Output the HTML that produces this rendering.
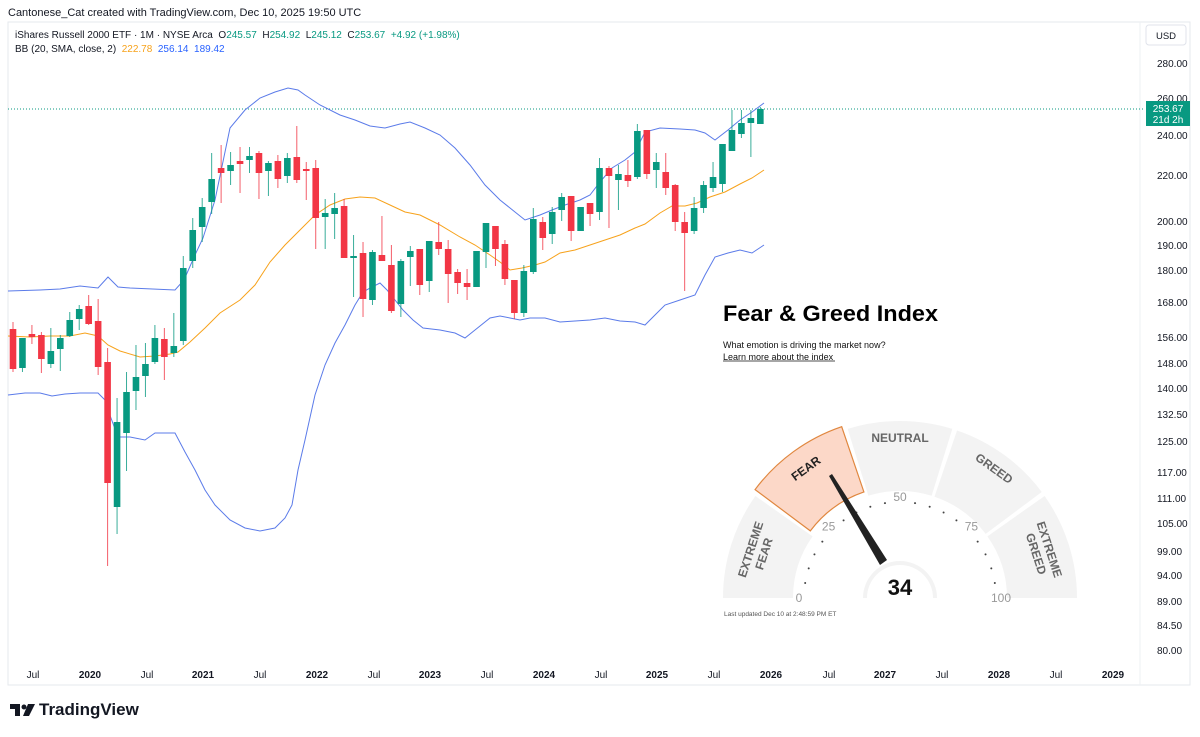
<!DOCTYPE html>
<html><head><meta charset="utf-8"><style>
html,body{margin:0;padding:0;background:#fff;}
body{width:1200px;height:732px;overflow:hidden;position:relative;font-family:"Liberation Sans",sans-serif;}
text{white-space:pre;}
</style></head><body>
<svg id="s" width="1200" height="732" viewBox="0 0 1200 732" xmlns="http://www.w3.org/2000/svg" font-family="Liberation Sans, sans-serif">
<rect x="8" y="22" width="1182" height="663" fill="none" stroke="#e6e8ee"/>
<line x1="1140" y1="22" x2="1140" y2="685" stroke="#eef0f3"/>
<text x="8" y="16" font-size="11" fill="#131722">Cantonese_Cat created with TradingView.com, Dec 10, 2025 19:50 UTC</text>
<text x="15" y="38" font-size="10" fill="#131722" xml:space="preserve">iShares Russell 2000 ETF · 1M · NYSE Arca  O<tspan fill="#089981">245.57</tspan>  H<tspan fill="#089981">254.92</tspan>  L<tspan fill="#089981">245.12</tspan>  C<tspan fill="#089981">253.67</tspan>  <tspan fill="#089981">+4.92 (+1.98%)</tspan></text>
<text x="15" y="52" font-size="10" fill="#131722" xml:space="preserve">BB (20, SMA, close, 2)  <tspan fill="#f7a21b">222.78</tspan>  <tspan fill="#2962ff">256.14</tspan>  <tspan fill="#2962ff">189.42</tspan></text>
<rect x="1146" y="25" width="40" height="20" rx="3" fill="#fff" stroke="#e0e3eb"/>
<text x="1166" y="39" font-size="9.5" fill="#131722" text-anchor="middle">USD</text>
<g id="ax" font-size="10" fill="#131722"></g>
<line x1="8" y1="109" x2="1145" y2="109" stroke="#089981" stroke-dasharray="1,2" stroke-width="1"/>
<g id="bb" fill="none" stroke-width="1"></g>
<g id="cd"></g>
<rect x="1146" y="101" width="44" height="25" fill="#089981"/>
<text x="1168" y="112" font-size="10" fill="#fff" text-anchor="middle">253.67</text>
<text x="1168" y="123" font-size="10" fill="#fff" text-anchor="middle">21d 2h</text>
<text x="723" y="321" font-size="22" font-weight="bold" fill="#000" textLength="215" lengthAdjust="spacingAndGlyphs">Fear &amp; Greed Index</text>
<text x="723" y="348" font-size="9" fill="#111">What emotion is driving the market now?</text>
<text x="723" y="360" font-size="9" fill="#111">Learn more about the index</text>
<line x1="723" y1="361" x2="835" y2="361" stroke="#111" stroke-width="0.7"/>
<g id="gg"></g>
<text x="724" y="616" font-size="6.5" fill="#555">Last updated Dec 10 at 2:48:59 PM ET</text>
<g transform="translate(10,700)">
<path d="M0 4h10v12h-5v-7h-5z" fill="#131722"/><circle cx="14" cy="7" r="2.5" fill="#131722"/><path d="M18 4h7l-6 12h-6z" fill="#131722"/>
<text x="29" y="15" font-size="17" font-weight="bold" fill="#131722">TradingView</text></g>
</svg>
<script>
var NS="http://www.w3.org/2000/svg";
function el(p,t,a,txt){var e=document.createElementNS(NS,t);for(var k in a)e.setAttribute(k,a[k]);if(txt!=null)e.textContent=txt;p.appendChild(e);return e;}
var ax=document.getElementById('ax');
[["280.00",63],["260.00",98],["240.00",135],["220.00",175],["200.00",221],["190.00",245],["180.00",270],["168.00",302],["156.00",337],["148.00",363],["140.00",388],["132.50",414],["125.00",441],["117.00",472],["111.00",498],["105.00",523],["99.00",551],["94.00",575],["89.00",601],["84.50",625],["80.00",650]].forEach(function(a){el(ax,'text',{x:1157,y:a[1]+4},a[0]);});
[["Jul",33],["2020",90],["Jul",147],["2021",203],["Jul",260],["2022",317],["Jul",374],["2023",430],["Jul",487],["2024",544],["Jul",601],["2025",657],["Jul",714],["2026",771],["Jul",829],["2027",885],["Jul",942],["2028",999],["Jul",1056],["2029",1113]].forEach(function(a){el(ax,'text',{x:a[1],y:678,'text-anchor':'middle','font-weight':a[0]=="Jul"?"normal":"bold"},a[0]);});
var C=[[329,369,322,372],[368,338,338,372],[334,337,325,344],[335,359,332,373],[364,351,328,368],[349,338,335,371],[336,320,312,337],[319,309,305,330],[306,324,295,325],[321,367,299,375],[362,483,348,566],[507,422,398,534],[433,392,372,471],[391,377,345,410],[376,364,343,397],[362,338,325,364],[339,357,328,380],[353,346,313,357],[341,268,256,345],[261,230,218,268],[227,207,198,242],[202,179,153,214],[168,173,145,203],[171,165,152,185],[161,164,147,193],[160,156,147,173],[153,173,151,199],[171,163,161,196],[161,179,155,188],[176,158,153,183],[157,180,126,183],[169,171,162,200],[168,218,160,249],[217,213,199,249],[214,208,193,239],[206,258,199,258],[258,256,235,297],[253,299,242,317],[300,252,250,305],[255,261,216,261],[265,311,245,313],[304,261,259,317],[257,251,246,286],[249,285,249,295],[281,241,241,292],[242,249,222,255],[249,274,240,303],[272,283,269,294],[283,287,269,300],[287,251,251,287],[252,223,223,268],[226,249,226,266],[244,279,240,285],[280,313,280,319],[313,271,265,317],[272,219,208,274],[222,238,217,250],[234,212,207,244],[210,197,193,221],[196,231,196,241],[231,207,207,231],[203,214,203,226],[212,168,158,220],[168,176,166,228],[180,174,165,210],[175,181,160,187],[177,131,124,179],[130,174,130,179],[170,162,153,188],[172,188,153,195],[185,222,184,231],[222,233,212,291],[231,208,197,234],[208,185,181,213],[188,177,162,192],[184,144,144,192],[151,130,110,151],[134,123,110,138],[123,118,110,157],[124,109,107,124]];
var cd=document.getElementById('cd');
C.forEach(function(c,i){var x=13+9.46*i;var g=c[1]<c[0];var col=g?"#089981":"#f23645";
el(cd,'line',{x1:x,x2:x,y1:c[2],y2:c[3],stroke:col,'stroke-width':1,opacity:0.8});
var t=Math.min(c[0],c[1]),h=Math.max(1.5,Math.abs(c[0]-c[1]));el(cd,'rect',{x:x-3.3,y:t,width:6.6,height:h,fill:col});});
var bb=document.getElementById('bb');
function pl(pts,col){el(bb,'polyline',{points:pts,stroke:col});}
pl("8,291 40,290 60,289 80,286 98,288 108,277 118,287 130,288 175,290 184,280 195,255 203,238 215,200 230,128 245,110 260,98 275,92 288,88 298,90 305,95 320,105 340,115 355,120 370,126 385,128 400,124 410,122 425,128 440,135 455,148 470,165 485,185 500,200 515,212 525,220 540,215 552,210 565,205 580,200 590,195 600,182 612,168 625,160 635,152 645,132 660,128 680,129 695,130 705,133 715,140 728,130 740,120 752,112 764,103","#5b7be9");
pl("8,336 30,337 50,336 70,336 85,333 98,336 108,345 120,351 140,357 155,356 170,354 178,352 190,342 205,328 220,313 240,300 255,285 270,262 285,245 300,230 315,215 330,205 345,199 360,197 375,198 390,205 405,212 420,215 440,225 460,237 475,245 490,255 500,262 510,270 522,268 535,265 545,262 560,253 575,250 590,245 605,240 620,235 635,228 645,224 660,213 672,206 685,206 697,203 710,197 725,192 740,184 752,178 764,170","#f7a21b");
pl("8,395 25,393 40,393 52,396 65,394 80,393 98,393 105,400 108,410 118,437 130,437 145,440 155,433 175,433 185,452 195,470 205,490 215,505 230,520 245,528 260,531 275,528 285,518 292,505 298,470 305,440 315,395 325,365 335,343 345,325 355,305 363,292 372,287 380,283 387,290 395,300 403,310 413,320 423,328 440,330 455,333 465,338 475,330 490,318 500,316 510,318 520,320 530,318 545,318 560,322 575,321 590,320 605,318 620,321 635,322 645,325 655,315 665,305 680,300 695,295 705,275 715,257 728,253 740,250 752,253 764,245","#5b7be9");
var gg=document.getElementById('gg');var cx=900,cy=598;
function P(r,a){a=a*Math.PI/180;return [cx+r*Math.cos(a),cy-r*Math.sin(a)];}
function seg(a1,a2,r1,r2,f,s){var p1=P(r2,a1),p2=P(r2,a2),p3=P(r1,a2),p4=P(r1,a1);
return el(gg,'path',{d:"M"+p1+" A"+r2+" "+r2+" 0 0 1 "+p2+" L"+p3+" A"+r1+" "+r1+" 0 0 0 "+p4+"Z",fill:f,stroke:s||"none",'stroke-width':1.2});}
for(var k=0;k<5;k++){var a1=180-36*k-0.8,a2=180-36*(k+1)+0.8;if(k==0)a1=180;if(k==4)a2=0;
if(k==1)continue;seg(a1,a2,107,177,"#f3f3f3");}
seg(180-36-0.8,180-72+0.8,112,181,"#fcd8c8","#e0873f");
var labs=[["EXTREME",162,-72,"FEAR"],["FEAR",126,-36],["NEUTRAL",90,0],["GREED",54,36],["EXTREME",18,72,"GREED"]];
labs.forEach(function(l){var p=P(l[3]?150:161,l[1]);var g=el(gg,'g',{transform:"translate("+p[0]+","+p[1]+") rotate("+l[2]+")"});
var st={'font-size':12,'font-weight':'bold','text-anchor':'middle',fill:l[0]=="FEAR"&&!l[3]?"#222":"#666"};
if(l[3]){st.y=-3;el(g,'text',st,l[0]);var s2=Object.assign({},st);s2.y=11;el(g,'text',s2,l[3]);}else{st.y=5;el(g,'text',st,l[0]);}});
for(var v=0;v<=100;v+=5){var a=180-v*1.8;if(v%25==0){var p=P(101,a);el(gg,'text',{x:p[0],y:p[1]+4,'font-size':12,fill:"#999",'text-anchor':'middle'},String(v));}
else{var p=P(96,a);el(gg,'circle',{cx:p[0],cy:p[1],r:1,fill:"#444"});}}
el(gg,'path',{d:"M"+cx+","+cy+" m-37,0 a37,37 0 0 1 74,0z",fill:"#f3f3f3"});
el(gg,'path',{d:"M"+cx+","+cy+" m-33,0 a33,33 0 0 1 66,0z",fill:"#fff"});
el(gg,'polygon',{points:"829,476 832,474 887,560 880,565",fill:"#222"});
el(gg,'text',{x:900,y:595,'font-size':22,'font-weight':'bold','text-anchor':'middle',fill:"#111"},"34");
</script>
</body></html>
